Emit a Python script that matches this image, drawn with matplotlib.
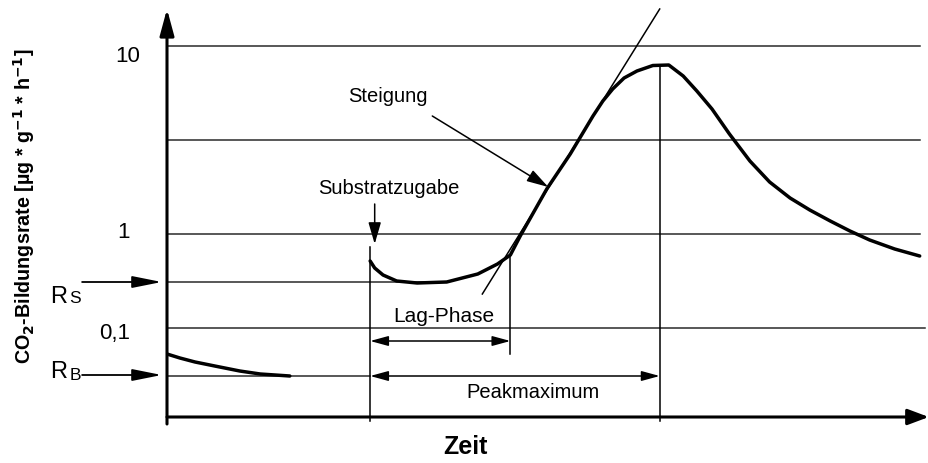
import matplotlib.pyplot as plt

plt.rcParams['font.family'] = ['Liberation Sans', 'DejaVu Sans']

# schematic units: x = Zeit (0..100), y = height above the time axis
grid_y = [37.1, 27.7, 18.3, 8.9]          # 10, (mid), 1, 0,1
tick_text = ['10', '1', '0,1']
tick_pos = [(-3.6, 36.2), (-4.9, 18.5), (-4.9, 8.5)]
rs_level = 13.5
rb_level = 4.1

# basal respiration before substrate addition
basal_t = [0, 1.7, 3.7, 6.3, 9.6, 12.3, 16.2]
basal_y = [6.3, 5.9, 5.5, 5.1, 4.6, 4.3, 4.1]

# respiration after substrate addition
resp_t = [26.8, 27.4, 28.5, 30.3, 33.0, 36.9, 41.0, 43.6, 45.3, 46.6, 50.1,
          53.2, 56.2, 57.5, 58.8, 60.3, 62.0, 64.1, 66.2, 68.1, 69.9, 71.9,
          74.2, 76.9, 79.5, 82.2, 84.8, 87.5, 90.1, 92.7, 96.0, 99.3]
resp_y = [15.6, 14.9, 14.2, 13.6, 13.4, 13.5, 14.3, 15.3, 16.2, 18.1, 22.8,
          26.3, 30.1, 31.6, 32.8, 33.9, 34.6, 35.15, 35.2, 34.1, 32.6, 30.8,
          28.3, 25.6, 23.5, 21.9, 20.7, 19.6, 18.6, 17.7, 16.8, 16.1]

tangent_t = [41.6, 65.0]
tangent_y = [12.3, 40.8]

t_substrate = 26.8
t_lag_end = 45.3
t_peak = 65.0

fig = plt.figure(figsize=(9.29, 4.64), dpi=100)
ax = fig.add_axes([167 / 929, 46 / 464, 758 / 929, 418 / 464])
ax.set_xlim(0, 100)
ax.set_ylim(0, 41.8)
ax.set_axis_off()

grid_kw = dict(color='#2a2a2a', lw=1.1, clip_on=False)
for i, y in enumerate(grid_y):
    ax.plot([0, 100 if i == 3 else 99.3], [y, y], **grid_kw)
ax.plot([0, 36.0], [rs_level, rs_level], **grid_kw)
ax.plot([0, t_substrate], [rb_level, rb_level], **grid_kw)

# vertical markers
line_kw = dict(color='black', lw=1.1, clip_on=False)
ax.plot([t_substrate, t_substrate], [-0.4, 17.0], **line_kw)
ax.plot([t_lag_end, t_lag_end], [6.3, 16.2], **line_kw)
ax.plot([t_peak, t_peak], [-0.4, 35.2], **line_kw)
ax.plot(tangent_t, tangent_y, color='black', lw=1.1)

# curves
ax.plot(basal_t, basal_y, color='black', lw=2.5, solid_capstyle='round')
ax.plot(resp_t, resp_y, color='black', lw=2.5, solid_capstyle='round',
        solid_joinstyle='round')

# axes arrows
ax.annotate('', xy=(0, 40.8), xytext=(0, -0.7), annotation_clip=False,
            arrowprops=dict(arrowstyle='-|>,head_length=1.0,head_width=0.27',
                            mutation_scale=16, lw=2.2, color='black',
                            shrinkA=0, shrinkB=0))
ax.annotate('', xy=(100.5, 0), xytext=(0, 0), annotation_clip=False,
            arrowprops=dict(arrowstyle='-|>,head_length=0.8,head_width=0.3',
                            mutation_scale=16, lw=2.2, color='black',
                            shrinkA=0, shrinkB=0))

# R_S / R_B arrows
for y in (rs_level, 4.2):
    ax.annotate('', xy=(-0.7, y), xytext=(-11.2, y), annotation_clip=False,
                arrowprops=dict(arrowstyle='-|>,head_length=1.0,head_width=0.2',
                                mutation_scale=18, lw=1.3, color='black',
                                shrinkA=0, shrinkB=0))

# lag phase and peak maximum spans
for y, t_end in ((7.6, t_lag_end), (rb_level, t_peak)):
    ax.annotate('', xy=(t_end, y), xytext=(t_substrate, y), annotation_clip=False,
                arrowprops=dict(arrowstyle='<|-|>,head_length=1.1,head_width=0.3',
                                mutation_scale=10, lw=1.1, color='black',
                                shrinkA=0, shrinkB=0))

# annotation arrows
ax.annotate('', xy=(27.4, 17.3), xytext=(27.4, 21.3),
            arrowprops=dict(arrowstyle='-|>,head_length=1.2,head_width=0.35',
                            mutation_scale=11, lw=1.1, color='black',
                            shrinkA=0, shrinkB=0))
ax.annotate('', xy=(50.3, 23.0), xytext=(35.0, 30.1),
            arrowprops=dict(arrowstyle='-|>,head_length=1.2,head_width=0.35',
                            mutation_scale=11, lw=1.1, color='black',
                            shrinkA=0, shrinkB=0))

# texts
fs = 14.5
ax.text(29.2, 32.1, 'Steigung', fontsize=fs, ha='center', va='center')
ax.text(29.3, 22.9, 'Substratzugabe', fontsize=fs, ha='center', va='center')
ax.text(36.5, 10.2, 'Lag-Phase', fontsize=15, ha='center', va='center',
        bbox=dict(facecolor='white', edgecolor='none', pad=1.5))
ax.text(48.3, 2.5, 'Peakmaximum', fontsize=fs, ha='center', va='center')

for label, (x, y) in zip(tick_text, tick_pos):
    ax.text(x, y, label, fontsize=16, ha='right', va='center', clip_on=False)

ax.text(-15.4, 11.5, 'R', fontsize=17, ha='left', va='baseline', clip_on=False)
ax.text(-12.9, 11.5, 'S', fontsize=12.5, ha='left', va='baseline', clip_on=False)
ax.text(-15.4, 4.0, 'R', fontsize=17, ha='left', va='baseline', clip_on=False)
ax.text(-12.9, 3.8, 'B', fontsize=12.5, ha='left', va='baseline', clip_on=False)

ax.text(39.4, -2.9, 'Zeit', fontsize=18, fontweight='bold', ha='center',
        va='center', clip_on=False)
ax.text(-18.9, 21.2, r'CO$_\mathbf{2}$-Bildungsrate [µg * g$^\mathbf{-1}$ * h$^\mathbf{-1}$]',
        fontsize=14.2, fontweight='bold', rotation=90, ha='center', va='center',
        clip_on=False)

fig.savefig('out.png', dpi=100)
